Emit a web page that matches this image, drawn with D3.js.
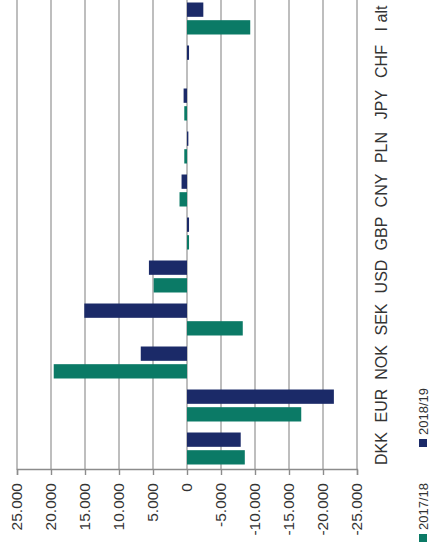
<!DOCTYPE html>
<html>
<head>
<meta charset="utf-8">
<script src="https://cdn.jsdelivr.net/npm/d3@7"></script>
<style>
  html, body { margin: 0; padding: 0; background: #fff; }
  svg { display: block; font-family: "Liberation Sans", Arial, sans-serif; }
</style>
</head>
<body>
<svg id="chart" width="431" height="559"></svg>
<script>
// Currency categories (left to right before the chart is turned on its side)
const categories = ["DKK", "EUR", "NOK", "SEK", "USD", "GBP", "CNY", "PLN", "JPY", "CHF", "I alt"];
const seriesNames = ["2017/18", "2018/19"];
const values2017 = [-8500, -16800, 19600, -8200, 4900, -300, 1100, 400, 400, 0, -9300];
const values2018 = [-7900, -21600, 6800, 15100, 5600, -300, 800, -200, 500, -300, -2400];
const tickValues = [25000, 20000, 15000, 10000, 5000, 0, -5000, -10000, -15000, -20000, -25000];
const colors = { "2017/18": "#0b7a66", "2018/19": "#1b2a68" };

const W = 431, H = 559;
const svg = d3.select("#chart");

// Draw in an upright frame (H wide, W tall) and turn it a quarter turn counter-clockwise.
const g = svg.append("g").attr("transform", `translate(0,${H}) rotate(-90)`);

const plotLeft = 89, plotRight = 562, plotTop = 17, plotBottom = 357;

const x = d3.scaleBand().domain(categories)
  .range([plotLeft, plotRight]).paddingInner(0.256).paddingOuter(0.128);
const xSub = d3.scaleBand().domain(seriesNames)
  .range([0, x.bandwidth()]).paddingInner(0.19);
const y = d3.scaleLinear().domain([-25000, 25000]).range([plotBottom, plotTop]);

const da = d3.formatLocale({ decimal: ",", thousands: ".", grouping: [3], currency: ["", " kr"], minus: "-" });
const fmt = da.format(",d");

// Gridlines
g.append("g").selectAll("line").data(tickValues).join("line")
  .attr("x1", plotLeft).attr("x2", plotRight)
  .attr("y1", d => y(d)).attr("y2", d => y(d))
  .attr("stroke", "#a3a3a3").attr("stroke-width", 1.4);

// Value axis
const axis = d3.axisLeft(y).tickValues(tickValues).tickFormat(fmt).tickSize(5).tickPadding(8);
const axG = g.append("g").attr("transform", `translate(${plotLeft},0)`).call(axis);
axG.select(".domain").attr("stroke", "#8c8c8c").attr("stroke-width", 1.4);
axG.selectAll(".tick line").attr("stroke", "#8c8c8c").attr("stroke-width", 1.4);
axG.selectAll(".tick text").attr("font-size", 15.5).attr("fill", "#333")
  .attr("font-family", "'Liberation Sans', Arial, sans-serif");

// Bars
const rows = categories.map((c, i) => ({ cat: c, vals: [
  { key: "2017/18", v: values2017[i] },
  { key: "2018/19", v: values2018[i] }
]}));
g.append("g").selectAll("g").data(rows).join("g")
  .attr("transform", d => `translate(${x(d.cat)},0)`)
  .selectAll("rect").data(d => d.vals).join("rect")
  .attr("x", d => xSub(d.key))
  .attr("width", xSub.bandwidth())
  .attr("y", d => y(Math.max(0, d.v)))
  .attr("height", d => Math.abs(y(d.v) - y(0)))
  .attr("fill", d => colors[d.key]);

// Category labels
g.append("g").selectAll("text").data(categories).join("text")
  .attr("x", d => x(d) + x.bandwidth() / 2)
  .attr("y", 381).attr("dy", "0.35em")
  .attr("text-anchor", "middle").attr("font-size", 16).attr("fill", "#333")
  .text(d => d);

// Legend
const legend = g.append("g").attr("transform", "translate(0,423)");
const legendPos = [{ key: "2017/18", x: 17 }, { key: "2018/19", x: 112 }];
legendPos.forEach(p => {
  legend.append("rect").attr("x", p.x).attr("y", -4).attr("width", 8).attr("height", 8)
    .attr("fill", colors[p.key]);
  legend.append("text").attr("x", p.x + 12).attr("y", 0).attr("dy", "0.35em")
    .attr("font-size", 13).attr("fill", "#333").text(p.key);
});
</script>
</body>
</html>
